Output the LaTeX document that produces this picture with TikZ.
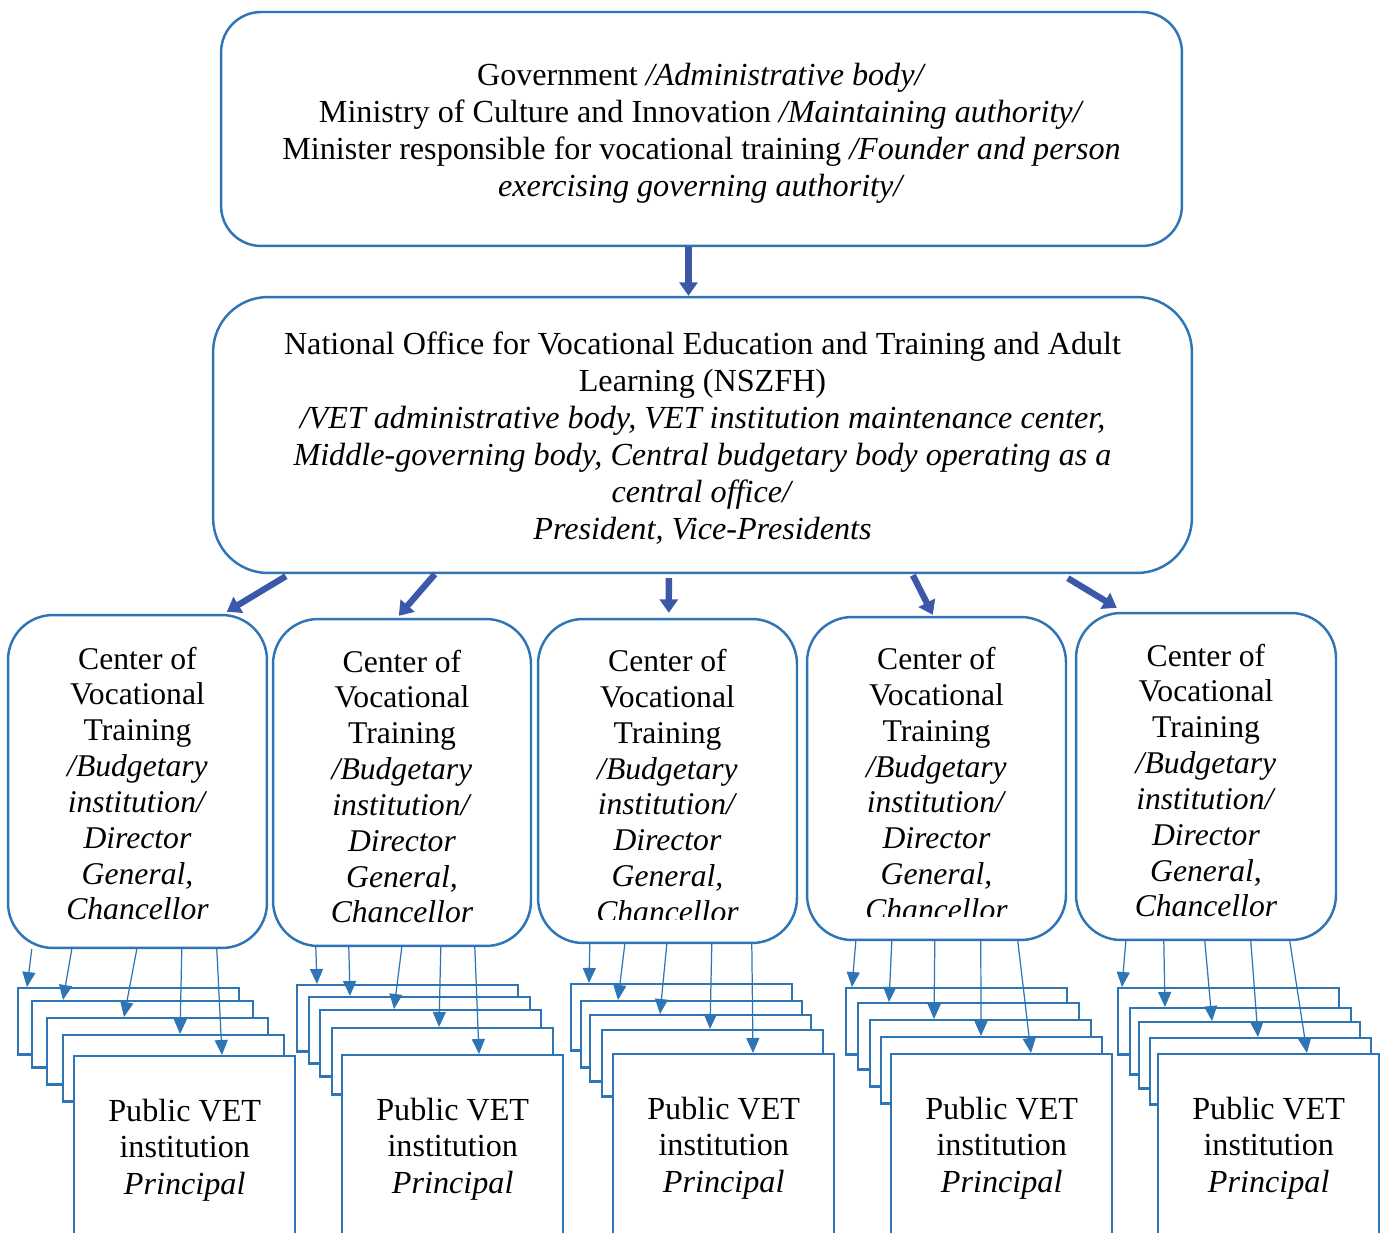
\documentclass[tikz,border=0pt]{standalone}
\usepackage{fontspec}
\setmainfont{Liberation Serif}
\usepackage{xcolor}
\definecolor{bleu}{RGB}{46,117,182}
\definecolor{bleufonce}{RGB}{59,89,168}
\usetikzlibrary{arrows.meta,calc,positioning}
\newcommand{\cvtexte}{Center of\\ Vocational\\ Training\\ \textit{/Budgetary}\\ \textit{institution/}\\ \textit{Director}\\ \textit{General,}\\ \textit{Chancellor}}
\newcommand{\vettexte}{Public VET\\ institution\\ \textit{Principal}}

\begin{document}
\begin{tikzpicture}[x=0.02cm,y=-0.02cm,
  boite/.style={draw=bleu,line width=1.4pt,inner sep=0pt},
  texte/.style={align=center,inner sep=0pt,font=\fontsize{18.3}{21}\selectfont},
  cvt/.style={texte,font=\fontsize{18}{20.4}\selectfont},
  feuille/.style={draw=bleu,line width=1.4pt,fill=white,inner sep=0pt,minimum width=4.42cm,minimum height=1.33cm,anchor=north west},
  fleche/.style={draw=bleu,line width=0.7pt,-{Triangle[width=0.26cm,length=0.3cm]}},
  grosse/.style={draw=bleufonce,line width=3.6pt,-{Triangle[width=0.36cm,length=0.27cm]}}]
\useasboundingbox (0,0) rectangle (1386,1233);
    \node[boite,rounded corners=0.8cm,minimum width=19.22cm,minimum height=4.68cm] (gov) at (701.5,129) {};
    \node[texte] (tgov) at (701.5,133)
      {Government \textit{/Administrative body/}\\ Ministry of Culture and Innovation \textit{/Maintaining authority/}\\
       Minister responsible for vocational training \textit{/Founder and person}\\ \textit{exercising governing authority/}};
    \node[boite,rounded corners=1.1cm,minimum width=19.58cm,minimum height=5.52cm] (office) at (702.5,435) {};
    \node[texte] (toffice) at (702.5,438)
      {National Office for Vocational Education and Training and Adult\\ Learning (NSZFH)\\
       \textit{/VET administrative body, VET institution maintenance center,}\\
       \textit{Middle-governing body, Central budgetary body operating as a}\\
       \textit{central office/}\\ \textit{President, Vice-Presidents}};
    \draw[grosse] ($(gov.south)+(-13,0)$) -- ($(office.north)+(-14,0)$);
    % centres
    \node[boite,rounded corners=0.9cm,minimum width=5.18cm,minimum height=6.66cm] (c1) at (137.5,781.5) {};
    \node[boite,rounded corners=0.9cm,minimum width=5.16cm,minimum height=6.54cm] (c2) at (402,782.5) {};
    \node[boite,rounded corners=0.9cm,minimum width=5.18cm,minimum height=6.48cm] (c3) at (667.5,781) {};
    \node[boite,rounded corners=0.9cm,minimum width=5.18cm,minimum height=6.46cm] (c4) at (936.5,778.5) {};
    \node[boite,rounded corners=0.9cm,minimum width=5.2cm,minimum height=6.54cm] (c5) at (1206,776.5) {};
    \node[cvt] (t1) at (137.5,783.5) {\cvtexte};
    \node[cvt] (t2) at (402,786.5) {\cvtexte};
    \begin{scope}
      \clip (538,619) rectangle (797,919);
      \node[cvt] (t3) at (667.5,786) {\cvtexte};
    \end{scope}
    \begin{scope}
      \clip (807,617) rectangle (1066,916);
      \node[cvt] (t4) at (936.5,784) {\cvtexte};
    \end{scope}
    \node[cvt] (t5) at (1206,780.5) {\cvtexte};
    \draw[grosse] ($(office.south west)+(74,2)$) -- ($(c1.north west)+(220,-2)$);
    \draw[grosse] ($(office.south west)+(223,0)$) -- ($(c2.north west)+(127,-2)$);
    \draw[grosse] ($(office.south west)+(457,4)$) -- ($(c3.north west)+(132,-5)$);
    \draw[grosse] ($(office.south west)+(701,1)$) -- ($(c4.north west)+(127,-1)$);
    \draw[grosse] ($(office.south west)+(856,4)$) -- ($(c5.north west)+(42,-4)$);
    % VET institutions
    \node[feuille] (p1a) at (17,987) {};
    \node[feuille] (p1b) at (31,1000) {};
    \node[feuille] (p1c) at (46,1017) {};
    \node[feuille] (p1d) at (62,1034) {};
    \node[feuille,texte,minimum height=3.76cm] (p1e) at (73,1055) {\vettexte};
    \node[feuille] (p2a) at (296,984) {};
    \node[feuille] (p2b) at (308,996) {};
    \node[feuille] (p2c) at (319,1009) {};
    \node[feuille] (p2d) at (331,1027) {};
    \node[feuille,texte,minimum height=3.76cm] (p2e) at (341,1054) {\vettexte};
    \node[feuille] (p3a) at (570,983) {};
    \node[feuille] (p3b) at (580,1000) {};
    \node[feuille] (p3c) at (589,1014) {};
    \node[feuille] (p3d) at (601,1029) {};
    \node[feuille,texte,minimum height=3.76cm] (p3e) at (612,1053) {\vettexte};
    \node[feuille] (p4a) at (845,987) {};
    \node[feuille] (p4b) at (857,1002) {};
    \node[feuille] (p4c) at (869,1019) {};
    \node[feuille] (p4d) at (880,1036) {};
    \node[feuille,texte,minimum height=3.76cm] (p4e) at (890,1053) {\vettexte};
    \node[feuille] (p5a) at (1117,987) {};
    \node[feuille] (p5b) at (1129,1007) {};
    \node[feuille] (p5c) at (1138,1021) {};
    \node[feuille] (p5d) at (1149,1037) {};
    \node[feuille,texte,minimum height=3.76cm] (p5e) at (1157,1053) {\vettexte};
    \draw[fleche] ($(c1.south west)+(25,0)$) -- ($(p1a.north west)+(10,0)$);
    \draw[fleche] ($(c1.south west)+(65,0)$) -- ($(p1b.north west)+(32,0)$);
    \draw[fleche] ($(c1.south west)+(130,0)$) -- ($(p1c.north west)+(78,0)$);
    \draw[fleche] ($(c1.south west)+(175,0)$) -- ($(p1d.north west)+(118,0)$);
    \draw[fleche] ($(c1.south west)+(210,0)$) -- ($(p1e.north west)+(149,0)$);
    \draw[fleche] ($(c2.south west)+(44,0)$) -- ($(p2a.north west)+(21,0)$);
    \draw[fleche] ($(c2.south west)+(77,0)$) -- ($(p2b.north west)+(42,0)$);
    \draw[fleche] ($(c2.south west)+(130,0)$) -- ($(p2c.north west)+(75,0)$);
    \draw[fleche] ($(c2.south west)+(169,0)$) -- ($(p2d.north west)+(108,0)$);
    \draw[fleche] ($(c2.south west)+(203,0)$) -- ($(p2e.north west)+(138,0)$);
    \draw[fleche] ($(c3.south west)+(53,0)$) -- ($(p3a.north west)+(19,0)$);
    \draw[fleche] ($(c3.south west)+(88,0)$) -- ($(p3b.north west)+(38,0)$);
    \draw[fleche] ($(c3.south west)+(130,0)$) -- ($(p3c.north west)+(71,0)$);
    \draw[fleche] ($(c3.south west)+(175,0)$) -- ($(p3d.north west)+(109,0)$);
    \draw[fleche] ($(c3.south west)+(215,0)$) -- ($(p3e.north west)+(141,0)$);
    \draw[fleche] ($(c4.south west)+(50,0)$) -- ($(p4a.north west)+(7,0)$);
    \draw[fleche] ($(c4.south west)+(86,0)$) -- ($(p4b.north west)+(32,0)$);
    \draw[fleche] ($(c4.south west)+(129,0)$) -- ($(p4c.north west)+(65,0)$);
    \draw[fleche] ($(c4.south west)+(175,0)$) -- ($(p4d.north west)+(101,0)$);
    \draw[fleche] ($(c4.south west)+(212,0)$) -- ($(p4e.north west)+(141,0)$);
    \draw[fleche] ($(c5.south west)+(51,0)$) -- ($(p5a.north west)+(5,0)$);
    \draw[fleche] ($(c5.south west)+(89,0)$) -- ($(p5b.north west)+(36,0)$);
    \draw[fleche] ($(c5.south west)+(130,0)$) -- ($(p5c.north west)+(74,0)$);
    \draw[fleche] ($(c5.south west)+(176,0)$) -- ($(p5d.north west)+(109,0)$);
    \draw[fleche] ($(c5.south west)+(215,0)$) -- ($(p5e.north west)+(150,0)$);
\end{tikzpicture}
\end{document}
